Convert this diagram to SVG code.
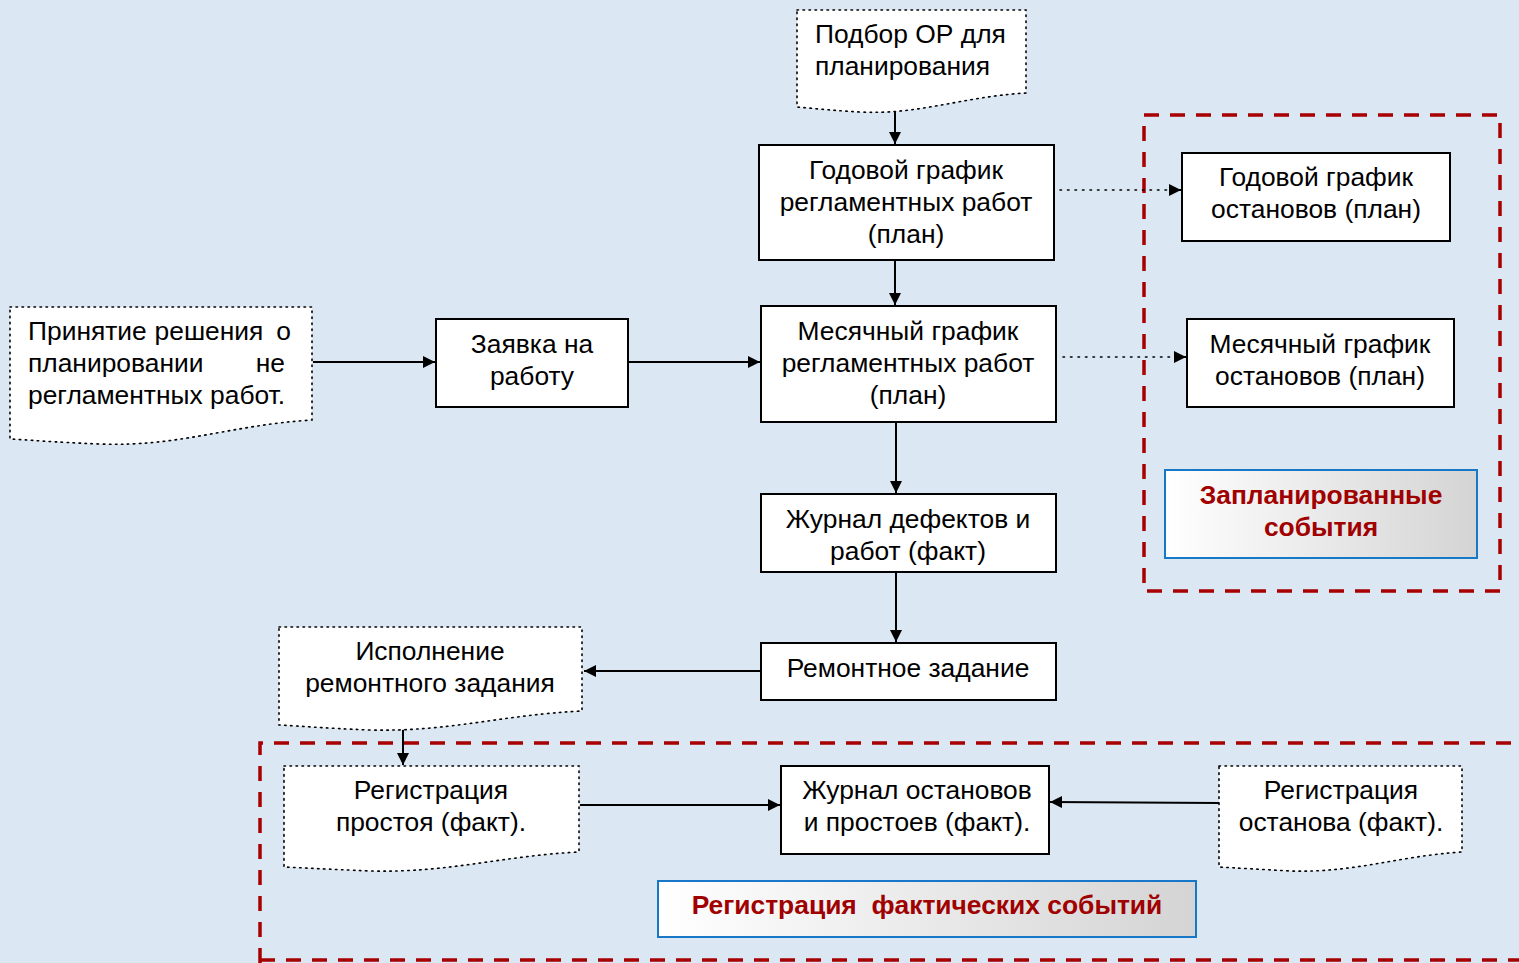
<svg xmlns="http://www.w3.org/2000/svg" width="1519" height="963" viewBox="0 0 1519 963">
<style>
.box{fill:#fff;stroke:#000;stroke-width:2}
.doc{fill:#fff;stroke:#000;stroke-width:1.6;stroke-dasharray:1.5 4.5;stroke-linecap:round}
.t{font-family:"Liberation Sans",Arial,sans-serif;font-size:26.4px;fill:#000}
.c{text-anchor:middle}
.lab{font-family:"Liberation Sans",Arial,sans-serif;font-size:26.4px;font-weight:bold;fill:#a00000;text-anchor:middle}
.lbox{fill:url(#g);stroke:#1878c8;stroke-width:2}
.red{fill:none;stroke:#a80000;stroke-width:3.5;stroke-dasharray:15 11}
.ln{stroke:#000;stroke-width:2;fill:none}
.dl{stroke:#000;stroke-width:1.6;fill:none;stroke-dasharray:1.5 6;stroke-linecap:round}
</style>
<defs>
<linearGradient id="g" x1="0" y1="0" x2="1" y2="0">
<stop offset="0" stop-color="#ffffff"/>
<stop offset="1" stop-color="#d4d4d4"/>
</linearGradient>
<marker id="a" viewBox="0 0 10 10" refX="10" refY="5" markerWidth="12" markerHeight="12" markerUnits="userSpaceOnUse" orient="auto">
<path d="M0,0 L10,5 L0,10 z" fill="#000"/>
</marker>
</defs>
<rect width="1519" height="963" fill="#dbe7f3"/>

<g id="zone-plan"><rect class="red" x="1144" y="115" width="356" height="476"/></g>
<g id="zone-fact"><path class="red" d="M260,963 L260,743 L1519,743"/><path class="red" d="M260,960 L1519,960"/></g>

<g id="connectors">
<line class="ln" x1="895" y1="110" x2="895" y2="144" marker-end="url(#a)"/>
<line class="ln" x1="895" y1="261" x2="895" y2="305" marker-end="url(#a)"/>
<line class="ln" x1="313" y1="362" x2="435" y2="362" marker-end="url(#a)"/>
<line class="ln" x1="629" y1="362" x2="760" y2="362" marker-end="url(#a)"/>
<line class="ln" x1="896" y1="423" x2="896" y2="493" marker-end="url(#a)"/>
<line class="ln" x1="896" y1="573" x2="896" y2="642" marker-end="url(#a)"/>
<line class="ln" x1="760" y1="671" x2="584" y2="671" marker-end="url(#a)"/>
<line class="ln" x1="403" y1="727" x2="403" y2="765" marker-end="url(#a)"/>
<line class="ln" x1="580" y1="805" x2="780" y2="805" marker-end="url(#a)"/>
<line class="ln" x1="1219" y1="803" x2="1050" y2="802" marker-end="url(#a)"/>
<line class="dl" x1="1060" y1="190" x2="1172" y2="190"/>
<line class="ln" x1="1172" y1="190" x2="1181" y2="190" marker-end="url(#a)" stroke-width="0.5"/>
<line class="dl" x1="1063" y1="357" x2="1177" y2="357"/>
<line class="ln" x1="1177" y1="357" x2="1186" y2="357" marker-end="url(#a)" stroke-width="0.5"/>
</g>

<g id="n-podbor">
<path class="doc" d="M797,10 L1026,10 L1026,93 C960,97 920,115 860,112 C825,110 810,108 797,107 Z"/>
<text class="t" x="815" y="43">Подбор ОР для</text>
<text class="t" x="815" y="75">планирования</text>
</g>

<g id="n-god-reg">
<rect class="box" x="759" y="145" width="295" height="115"/>
<text class="t c" x="906" y="179">Годовой график</text>
<text class="t c" x="906" y="211">регламентных работ</text>
<text class="t c" x="906" y="243">(план)</text>
</g>

<g id="n-mes-reg">
<rect class="box" x="761" y="306" width="295" height="116"/>
<text class="t c" x="908" y="340">Месячный график</text>
<text class="t c" x="908" y="372">регламентных работ</text>
<text class="t c" x="908" y="404">(план)</text>
</g>

<g id="n-prinyatie">
<path class="doc" d="M10,307 L312,307 L312,420 C230,425 180,447 100,444 C50,442 30,440 10,439 Z"/>
<text class="t" x="28" y="340">Принятие</text>
<text class="t c" x="209" y="340">решения</text>
<text class="t" x="291" y="340" text-anchor="end">о</text>
<text class="t" x="28" y="372">планировании</text>
<text class="t" x="285" y="372" text-anchor="end">не</text>
<text class="t" x="28" y="404">регламентных работ.</text>
</g>

<g id="n-zayavka">
<rect class="box" x="436" y="319" width="192" height="88"/>
<text class="t c" x="532" y="353">Заявка на</text>
<text class="t c" x="532" y="385">работу</text>
</g>

<g id="n-zhurnal-def">
<rect class="box" x="761" y="494" width="295" height="78"/>
<text class="t c" x="908" y="528">Журнал дефектов и</text>
<text class="t c" x="908" y="560">работ (факт)</text>
</g>

<g id="n-remont">
<rect class="box" x="761" y="643" width="295" height="57"/>
<text class="t c" x="908" y="677">Ремонтное задание</text>
</g>

<g id="n-ispolnenie">
<path class="doc" d="M279,627 L582,627 L582,711 C500,715 450,732 370,730 C320,728 300,726 279,725 Z"/>
<text class="t c" x="430" y="660">Исполнение</text>
<text class="t c" x="430" y="692">ремонтного задания</text>
</g>

<g id="n-reg-prostoy">
<path class="doc" d="M284,766 L579,766 L579,852 C500,856 450,873 370,871 C325,869 305,868 284,867 Z"/>
<text class="t c" x="431" y="799">Регистрация</text>
<text class="t c" x="431" y="831">простоя (факт).</text>
</g>

<g id="n-zhurnal-ost">
<rect class="box" x="781" y="766" width="268" height="88"/>
<text class="t c" x="917" y="799">Журнал остановов</text>
<text class="t c" x="917" y="831">и простоев (факт).</text>
</g>

<g id="n-reg-ostanov">
<path class="doc" d="M1219,766 L1462,766 L1462,852 C1398,856 1355,873 1290,871 C1255,869 1237,868 1219,867 Z"/>
<text class="t c" x="1341" y="799">Регистрация</text>
<text class="t c" x="1341" y="831">останова (факт).</text>
</g>

<g id="n-god-ost">
<rect class="box" x="1182" y="153" width="268" height="88"/>
<text class="t c" x="1316" y="186">Годовой график</text>
<text class="t c" x="1316" y="218">остановов (план)</text>
</g>

<g id="n-mes-ost">
<rect class="box" x="1187" y="319" width="267" height="88"/>
<text class="t c" x="1320" y="353">Месячный график</text>
<text class="t c" x="1320" y="385">остановов (план)</text>
</g>

<g id="n-lab-plan">
<rect class="lbox" x="1165" y="470" width="312" height="88"/>
<text class="lab" x="1321" y="504">Запланированные</text>
<text class="lab" x="1321" y="536">события</text>
</g>

<g id="n-lab-fact">
<rect class="lbox" x="658" y="881" width="538" height="56"/>
<text class="lab" x="927" y="914" xml:space="preserve">Регистрация  фактических событий</text>
</g>
</svg>
